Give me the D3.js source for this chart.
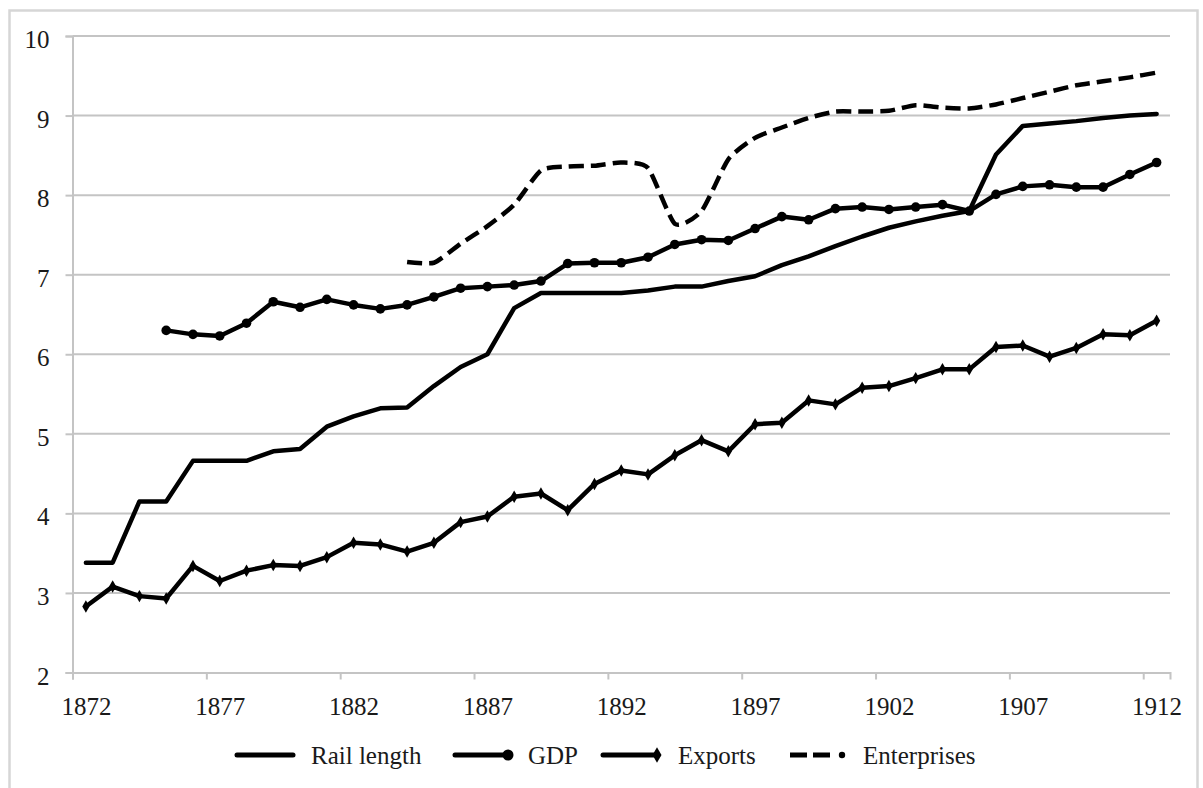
<!DOCTYPE html>
<html>
<head>
<meta charset="utf-8">
<script src="https://cdn.jsdelivr.net/npm/d3@7"></script>
<style>
  html, body { margin: 0; padding: 0; background: #fff; }
  svg text { font-family: "Liberation Serif", "Times New Roman", serif; fill: #1a1a1a; }
</style>
</head>
<body>
<svg id="chart" width="1203" height="788"></svg>
<script>
// ---- data ----
const years = d3.range(1872, 1913);
const xTickLabels = [1872, 1877, 1882, 1887, 1892, 1897, 1902, 1907, 1912];
const yTicks = [2, 3, 4, 5, 6, 7, 8, 9, 10];
const seriesNames = ["Rail length", "GDP", "Exports", "Enterprises"];

const railLength = [3.38, 3.38, 4.15, 4.15, 4.66, 4.66, 4.66, 4.78, 4.81, 5.09,
  5.22, 5.32, 5.33, 5.60, 5.84, 6.00, 6.58, 6.77, 6.77, 6.77,
  6.77, 6.80, 6.85, 6.85, 6.92, 6.98, 7.12, 7.23, 7.36, 7.48,
  7.59, 7.67, 7.74, 7.80, 8.51, 8.87, 8.90, 8.93, 8.97, 9.00, 9.02];
const gdp = [null, null, null, 6.30, 6.25, 6.23, 6.39, 6.66, 6.59, 6.69,
  6.62, 6.57, 6.62, 6.72, 6.83, 6.85, 6.87, 6.92, 7.14, 7.15,
  7.15, 7.22, 7.38, 7.44, 7.43, 7.58, 7.73, 7.69, 7.83, 7.85,
  7.82, 7.85, 7.88, 7.80, 8.01, 8.11, 8.13, 8.10, 8.10, 8.26, 8.41];
const exportsVals = [2.83, 3.08, 2.96, 2.93, 3.34, 3.15, 3.28, 3.35, 3.34, 3.45,
  3.63, 3.61, 3.52, 3.63, 3.89, 3.96, 4.21, 4.25, 4.04, 4.37,
  4.54, 4.49, 4.73, 4.92, 4.78, 5.12, 5.14, 5.42, 5.37, 5.58,
  5.60, 5.70, 5.81, 5.81, 6.09, 6.11, 5.97, 6.08, 6.25, 6.24, 6.42];
const enterprises = [null, null, null, null, null, null, null, null, null, null,
  null, null, 7.16, 7.15, 7.39, 7.61, 7.88, 8.31, 8.36, 8.37,
  8.41, 8.34, 7.64, 7.80, 8.45, 8.72, 8.85, 8.97, 9.05, 9.05,
  9.06, 9.13, 9.10, 9.09, 9.14, 9.22, 9.30, 9.38, 9.43, 9.48, 9.54];

// ---- layout ----
const svg = d3.select("#chart");
const plotLeft = 72.5, plotRight = 1170, plotTop = 36, plotBottom = 672.5;
const gridColor = "#c4c4c4";
const ink = "#000";

// outer frame
svg.append("rect").attr("x", 9.5).attr("y", 10.5).attr("width", 1188).attr("height", 800)
  .attr("fill", "none").attr("stroke", "#d6d6d6").attr("stroke-width", 2.5);

const x = d3.scaleLinear().domain([years[0] - 0.5, years[years.length - 1] + 0.5]).range([plotLeft, plotRight]);
const y = d3.scaleLinear().domain([2, 10]).range([plotBottom, plotTop]);

// gridlines
svg.append("g").selectAll("line").data(yTicks.filter(d => d > 2)).join("line")
  .attr("x1", plotLeft).attr("x2", plotRight)
  .attr("y1", d => y(d)).attr("y2", d => y(d))
  .attr("stroke", gridColor).attr("stroke-width", 2);

// y axis
const yAxis = svg.append("g").attr("transform", `translate(${plotLeft},0)`)
  .call(d3.axisLeft(y).tickValues(yTicks).tickSize(7).tickPadding(16).tickFormat(d3.format("d")));
yAxis.select(".domain").attr("stroke", gridColor).attr("stroke-width", 2);
yAxis.selectAll(".tick line").attr("stroke", gridColor).attr("stroke-width", 2);
yAxis.selectAll(".tick text").attr("font-size", 25).attr("dy", "0.46em")
  .attr("font-family", "Liberation Serif").attr("fill", "#1a1a1a");

// x axis: tick marks between categories
const boundaryTicks = xTickLabels.map(d => d - 0.5);
const xAxis = svg.append("g").attr("transform", `translate(0,${plotBottom})`)
  .call(d3.axisBottom(x).tickValues(boundaryTicks).tickSize(7).tickFormat(""));
xAxis.select(".domain").attr("stroke", gridColor).attr("stroke-width", 2);
xAxis.selectAll(".tick line").attr("stroke", gridColor).attr("stroke-width", 2);

// x labels centered on categories
const xLab = svg.append("g").attr("transform", `translate(0,${plotBottom})`)
  .call(d3.axisBottom(x).tickValues(xTickLabels).tickSize(0).tickPadding(25).tickFormat(d3.format("d")));
xLab.select(".domain").remove();
xLab.selectAll(".tick text").attr("font-size", 25).attr("dy", "0.71em")
  .attr("font-family", "Liberation Serif").attr("fill", "#1a1a1a");

// ---- lines ----
function pts(vals) { return years.map((yr, i) => ({ yr, v: vals[i] })); }
const lineLin = d3.line().defined(d => d.v != null).x(d => x(d.yr)).y(d => y(d.v));
const lineSmooth = d3.line().defined(d => d.v != null).x(d => x(d.yr)).y(d => y(d.v))
  .curve(d3.curveCardinal.tension(0.4));

const plot = svg.append("g");
plot.append("path").datum(pts(railLength)).attr("d", lineLin)
  .attr("fill", "none").attr("stroke", ink).attr("stroke-width", 4.5)
  .attr("stroke-linejoin", "round").attr("stroke-linecap", "round");

plot.append("path").datum(pts(exportsVals)).attr("d", lineLin)
  .attr("fill", "none").attr("stroke", ink).attr("stroke-width", 4.5)
  .attr("stroke-linejoin", "round").attr("stroke-linecap", "round");
plot.append("g").selectAll("path").data(pts(exportsVals).filter(d => d.v != null)).join("path")
  .attr("transform", d => `translate(${x(d.yr)},${y(d.v)})`)
  .attr("d", d3.symbol(d3.symbolDiamond, 45)).attr("fill", ink);

plot.append("path").datum(pts(gdp)).attr("d", lineLin)
  .attr("fill", "none").attr("stroke", ink).attr("stroke-width", 4.5)
  .attr("stroke-linejoin", "round").attr("stroke-linecap", "round");
plot.append("g").selectAll("circle").data(pts(gdp).filter(d => d.v != null)).join("circle")
  .attr("cx", d => x(d.yr)).attr("cy", d => y(d.v)).attr("r", 4.8).attr("fill", ink);

plot.append("path").datum(pts(enterprises)).attr("d", lineSmooth)
  .attr("fill", "none").attr("stroke", ink).attr("stroke-width", 4.5)
  .attr("stroke-dasharray", "15,7").attr("stroke-linecap", "butt");

// ---- legend ----
const legendY = 755;
const legendItems = [
  { name: seriesNames[0], x0: 237, x1: 293, tx: 311, marker: null, dash: null },
  { name: seriesNames[1], x0: 455, x1: 510, tx: 528, marker: "circle", dash: null },
  { name: seriesNames[2], x0: 603, x1: 658, tx: 678, marker: "diamond", dash: null },
  { name: seriesNames[3], x0: 790, x1: 845, tx: 863, marker: "dot", dash: "17,6,17,100" }
];
const lg = svg.append("g");
legendItems.forEach(it => {
  const l = lg.append("line").attr("x1", it.x0).attr("x2", it.x1)
    .attr("y1", legendY).attr("y2", legendY)
    .attr("stroke", ink).attr("stroke-width", 5);
  if (it.dash) l.attr("stroke-dasharray", it.dash).attr("stroke-linecap", "butt");
  else l.attr("stroke-linecap", "round");
  if (it.marker === "circle") {
    lg.append("circle").attr("cx", it.x1 - 2).attr("cy", legendY).attr("r", 5.5).attr("fill", ink);
  } else if (it.marker === "diamond") {
    lg.append("path").attr("transform", `translate(${it.x1 - 1},${legendY})`)
      .attr("d", d3.symbol(d3.symbolDiamond, 70)).attr("fill", ink);
  } else if (it.marker === "dot") {
    lg.append("circle").attr("cx", it.x1 - 3).attr("cy", legendY).attr("r", 3.2).attr("fill", ink);
  }
  lg.append("text").attr("x", it.tx).attr("y", legendY + 9).attr("font-size", 25).text(it.name);
});
</script>
</body>
</html>
